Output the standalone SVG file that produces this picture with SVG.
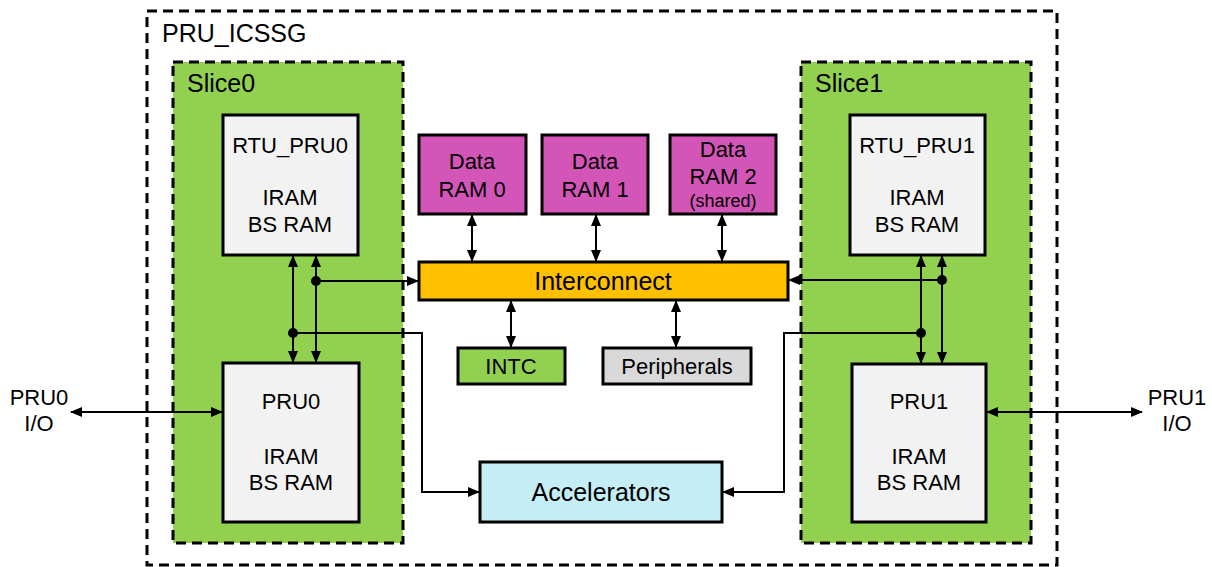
<svg xmlns="http://www.w3.org/2000/svg" width="1212" height="567" viewBox="0 0 1212 567">
<style>
text{font-family:"Liberation Sans",Arial,sans-serif;fill:#000;text-anchor:middle}
.box{stroke:#000;stroke-width:3}
.core{fill:#F2F2F2}
.ram{fill:#D455B8}
.dash{fill:none;stroke:#000;stroke-width:3;stroke-dasharray:10 6}
.slice{fill:#92D050;stroke:#000;stroke-width:3;stroke-dasharray:10 6}
.c{fill:none;stroke:#000;stroke-width:2}
.t22{font-size:22px}
.t25{font-size:25px}
</style>
<defs>
<marker id="ah" markerUnits="userSpaceOnUse" markerWidth="12" markerHeight="10" refX="11" refY="5" orient="auto-start-reverse">
<path d="M0,0 L12,5 L0,10 z" fill="#000"/>
</marker>
</defs>
<rect fill="#fff" width="1212" height="567"/>
<g id="pru_icssg">
<rect class="dash" x="147" y="11" width="910" height="554"/>
<text x="162" y="42" class="t25" style="text-anchor:start">PRU_ICSSG</text>
</g>
<g id="slice0">
<rect class="slice" x="173" y="62" width="230" height="481"/>
<text x="187" y="92" class="t25" style="text-anchor:start">Slice0</text>
</g>
<g id="slice1">
<rect class="slice" x="801" y="62" width="230" height="481"/>
<text x="815" y="92" class="t25" style="text-anchor:start">Slice1</text>
</g>
<g id="rtu_pru0">
<rect class="box core" x="223" y="115" width="135" height="140"/>
<text x="290" y="153" class="t22">RTU_PRU0</text>
<text x="290" y="205" class="t22">IRAM</text>
<text x="290" y="232" class="t22">BS RAM</text>
</g>
<g id="pru0">
<rect class="box core" x="223" y="363" width="136" height="159"/>
<text x="291" y="409" class="t22">PRU0</text>
<text x="291" y="464" class="t22">IRAM</text>
<text x="291" y="490" class="t22">BS RAM</text>
</g>
<g id="rtu_pru1">
<rect class="box core" x="850" y="115" width="135" height="140"/>
<text x="917" y="153" class="t22">RTU_PRU1</text>
<text x="917" y="205" class="t22">IRAM</text>
<text x="917" y="232" class="t22">BS RAM</text>
</g>
<g id="pru1">
<rect class="box core" x="852" y="364" width="134" height="158"/>
<text x="919" y="409" class="t22">PRU1</text>
<text x="919" y="464" class="t22">IRAM</text>
<text x="919" y="490" class="t22">BS RAM</text>
</g>
<g id="data_ram0">
<rect class="box ram" x="419" y="135" width="107" height="79"/>
<text x="472" y="169" class="t22">Data</text>
<text x="472" y="197" class="t22">RAM 0</text>
</g>
<g id="data_ram1">
<rect class="box ram" x="542" y="135" width="106" height="79"/>
<text x="595" y="169" class="t22">Data</text>
<text x="595" y="197" class="t22">RAM 1</text>
</g>
<g id="data_ram2">
<rect class="box ram" x="670" y="135" width="106" height="79"/>
<text x="723" y="157" class="t22">Data</text>
<text x="723" y="184" class="t22">RAM 2</text>
<text x="723" y="207" style="font-size:18px">(shared)</text>
</g>
<g id="interconnect">
<rect class="box" fill="#FFC000" x="419" y="262" width="369" height="38"/>
<text x="603" y="290" class="t25">Interconnect</text>
</g>
<g id="intc">
<rect class="box" fill="#92D050" x="458" y="348" width="107" height="36"/>
<text x="511" y="374" class="t22">INTC</text>
</g>
<g id="peripherals">
<rect class="box" fill="#D9D9D9" x="603" y="348" width="148" height="36"/>
<text x="677" y="374" class="t22">Peripherals</text>
</g>
<g id="accelerators">
<rect class="box" fill="#C4EDF5" x="480" y="462" width="242" height="60"/>
<text x="601" y="501" class="t25">Accelerators</text>
</g>
<g id="pru0_io">
<text x="39" y="405" class="t22">PRU0</text>
<text x="39" y="431" class="t22">I/O</text>
</g>
<g id="pru1_io">
<text x="1177" y="405" class="t22">PRU1</text>
<text x="1177" y="431" class="t22">I/O</text>
</g>
<g id="connectors">
<line class="c" x1="472" y1="215" x2="472" y2="261" marker-start="url(#ah)" marker-end="url(#ah)"/>
<line class="c" x1="596" y1="215" x2="596" y2="261" marker-start="url(#ah)" marker-end="url(#ah)"/>
<line class="c" x1="722" y1="215" x2="722" y2="261" marker-start="url(#ah)" marker-end="url(#ah)"/>
<line class="c" x1="511" y1="301" x2="511" y2="347" marker-start="url(#ah)" marker-end="url(#ah)"/>
<line class="c" x1="676" y1="301" x2="676" y2="347" marker-start="url(#ah)" marker-end="url(#ah)"/>
<line class="c" x1="293" y1="256" x2="293" y2="362" marker-start="url(#ah)" marker-end="url(#ah)"/>
<line class="c" x1="316" y1="256" x2="316" y2="362" marker-start="url(#ah)" marker-end="url(#ah)"/>
<line class="c" x1="316" y1="281" x2="418" y2="281" marker-end="url(#ah)"/>
<polyline class="c" points="293,333 422,333 422,492 479,492" marker-end="url(#ah)"/>
<circle cx="316" cy="281" r="5"/>
<circle cx="293" cy="333" r="5"/>
<line class="c" x1="921" y1="256" x2="921" y2="363" marker-start="url(#ah)" marker-end="url(#ah)"/>
<line class="c" x1="942" y1="256" x2="942" y2="363" marker-start="url(#ah)" marker-end="url(#ah)"/>
<line class="c" x1="942" y1="280" x2="789" y2="280" marker-end="url(#ah)"/>
<polyline class="c" points="921,333 784,333 784,492 723,492" marker-end="url(#ah)"/>
<circle cx="942" cy="280" r="5"/>
<circle cx="921" cy="333" r="5"/>
<line class="c" x1="71" y1="412" x2="222" y2="412" marker-start="url(#ah)" marker-end="url(#ah)"/>
<line class="c" x1="987" y1="412" x2="1142" y2="412" marker-start="url(#ah)" marker-end="url(#ah)"/>
</g>
</svg>
